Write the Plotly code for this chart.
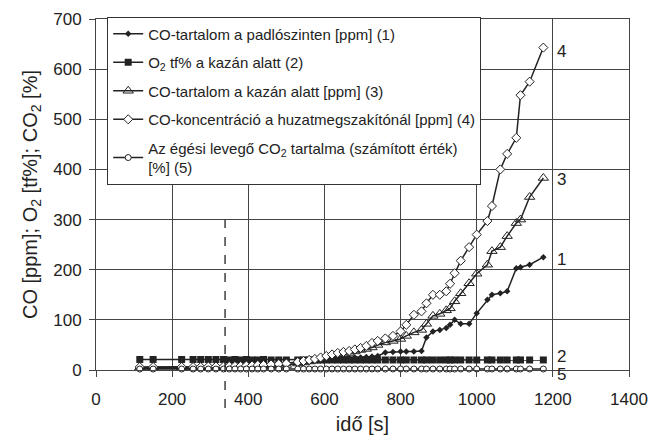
import plotly.graph_objects as go

t = [115, 150, 225, 255, 275, 295, 315, 335, 350, 365, 380, 395, 410, 425, 440, 460, 480, 500,
     530, 545, 560, 575, 590, 605, 620, 635, 650, 665, 680, 695, 710, 725, 740, 760, 780, 800,
     815, 835, 855, 868, 885, 903, 920, 930, 942, 958, 980, 1000, 1028, 1040, 1062, 1080, 1104,
     1115, 1139, 1175]

s1 = [3, 3, 3, 3, 3, 4, 4, 4, 5, 5, 6, 6, 7, 7, 8, 8, 9, 10,
      12, 14, 16, 18, 19, 20, 22, 23, 24, 24, 25, 25, 26, 27, 28, 35, 36, 37,
      37, 37, 38, 65, 77, 80, 84, 90, 100, 92, 92, 113, 140, 150, 153, 157, 203,
      205, 210, 225]

s2 = [21, 21, 21, 21, 21, 21, 21, 21, 20, 21, 20, 21, 20, 20, 21, 20, 20, 20,
      20, 20, 20, 20, 20, 20, 20, 20, 20, 20, 20, 20, 20, 20, 20, 20, 20, 20,
      20, 20, 20, 20, 20, 20, 20, 20, 20, 20, 20, 20, 20, 20, 20, 20, 20,
      20, 20, 20]

s3 = [5, 5, 5, 5, 5, 6, 6, 6, 7, 7, 7, 8, 8, 8, 9, 9, 10, 10,
      13, 15, 17, 19, 21, 23, 26, 29, 31, 34, 37, 40, 42, 45, 50, 55, 58, 62,
      68, 75, 80, 92, 108, 112, 119, 123, 137, 153, 173, 192, 210, 237, 245, 267, 293,
      300, 345, 383]

s4 = [6, 6, 6, 6, 6, 7, 7, 7, 8, 8, 8, 9, 9, 10, 10, 11, 12, 13,
      16, 18, 20, 22, 25, 28, 31, 34, 36, 38, 41, 44, 48, 54, 58, 63, 68, 77,
      90, 110, 117, 133, 150, 150, 157, 172, 193, 218, 245, 270, 297, 327, 400, 431, 463,
      548, 575, 643]

s5 = [2] * len(t)

names = [
    "CO-tartalom a padlószinten [ppm] (1)",
    "O<sub>2</sub> tf% a kazán alatt (2)",
    "CO-tartalom a kazán alatt [ppm] (3)",
    "CO-koncentráció a huzatmegszakítónál [ppm] (4)",
    "Az égési levegő CO<sub>2</sub> tartalma (számított érték)<br>[%] (5)",
]

end_labels = ["4", "3", "1", "2", "5"]
end_label_y = [636, 380, 220, 26, 0]
end_label_shift = [0, 0, 0, 0, -4]
end_label_x = 1222
dash_x = 339

ink = "#222222"
series = [s1, s2, s3, s4, s5]
markers = [
    dict(symbol="diamond", size=5, color=ink, line=dict(color=ink, width=0)),
    dict(symbol="square", size=7, color=ink, line=dict(color=ink, width=0)),
    dict(symbol="triangle-up-open", size=9, color=ink, line=dict(color=ink, width=1)),
    dict(symbol="diamond", size=7, color="white", line=dict(color=ink, width=1)),
    dict(symbol="circle", size=6, color="white", line=dict(color=ink, width=1)),
]

fig = go.Figure()
for i, (vals, nm, mk) in enumerate(zip(series, names, markers)):
    fig.add_trace(go.Scatter(
        x=t, y=vals, name=nm, mode="lines+markers",
        line=dict(color=ink, width=1.5), marker=mk,
        legendgroup=f"g{i}", cliponaxis=False,
    ))

for lab, yv, sh in zip(end_labels, end_label_y, end_label_shift):
    fig.add_annotation(x=end_label_x, y=yv, text=lab, showarrow=False, yshift=sh,
                       font=dict(size=17, color=ink), xanchor="center", yanchor="middle")

fig.add_shape(type="line", xref="x", yref="paper", x0=dash_x, x1=dash_x,
              y0=-0.108, y1=300 / 700, line=dict(color=ink, width=1.3, dash="dash"))

font = "Liberation Sans, Arial, sans-serif"
fig.update_layout(
    width=648, height=439,
    margin=dict(l=96, r=19, t=19, b=69),
    paper_bgcolor="white", plot_bgcolor="white",
    font=dict(family=font, size=17, color=ink),
    showlegend=True,
    legend=dict(x=0.021, y=1.007, xanchor="left", yanchor="top",
                bgcolor="white", bordercolor="#333333", borderwidth=1,
                font=dict(size=15, color=ink), tracegroupgap=6, itemwidth=30),
    xaxis=dict(range=[0, 1400], dtick=200, showgrid=True, gridcolor="#444444", gridwidth=1,
               showline=True, linecolor="#444444", linewidth=1, mirror=True,
               ticks="outside", ticklen=6, tickcolor="#444444", zeroline=False,
               automargin=False,
               title=dict(text="idő [s]", standoff=8), ticklabelstandoff=8),
    yaxis=dict(range=[0, 700], dtick=100, showgrid=True, gridcolor="#444444", gridwidth=1,
               showline=True, linecolor="#444444", linewidth=1, mirror=True,
               ticks="outside", ticklen=6, tickcolor="#444444", zeroline=False,
               automargin=False,
               title=dict(text="CO [ppm]; O<sub>2</sub> [tf%]; CO<sub>2</sub> [%]", standoff=10),
               ticklabelstandoff=4),
)

fig.write_html("out.html")
